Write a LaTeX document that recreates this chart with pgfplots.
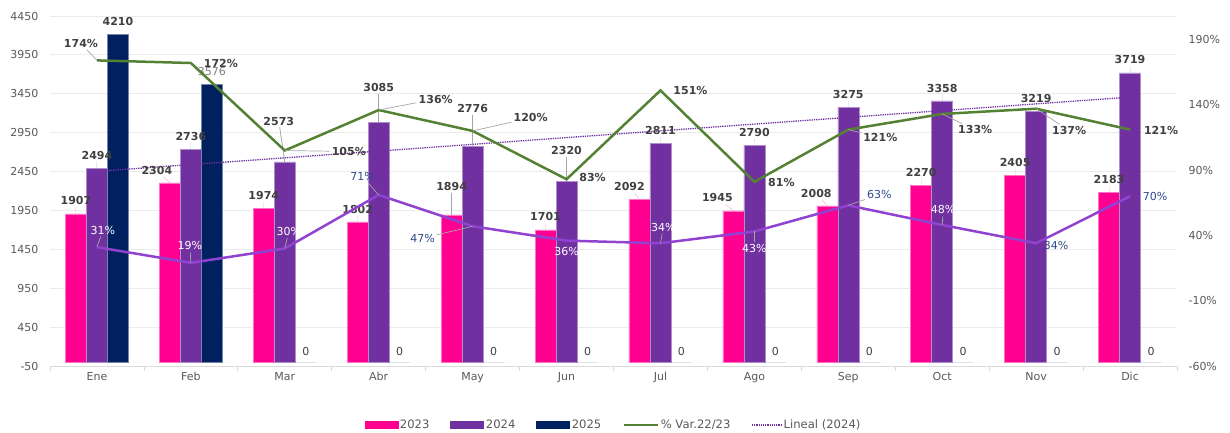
\documentclass[border=0pt]{standalone}
\usepackage{pgfplots}
\usepackage{pgfplotstable}
\pgfplotsset{compat=1.18}
\usepackage{fontspec}
\setmainfont{DejaVu Sans}

\definecolor{cA}{HTML}{FF0090}
\definecolor{cB}{HTML}{7030A0}
\definecolor{cC}{HTML}{002060}
\definecolor{cVar}{HTML}{548235}
\definecolor{cVio}{HTML}{9142D1}
\definecolor{lblue}{HTML}{2E4A8B}
\definecolor{tickc}{HTML}{595959}
\definecolor{labc}{HTML}{404040}
\definecolor{gridc}{HTML}{EBEBEB}
\definecolor{axisc}{HTML}{D9D9D9}
\definecolor{leadc}{HTML}{A6A6A6}

\newcommand\lfont{\fontsize{11bp}{13bp}\selectfont}

% 2023 (dx, dy: label offset in bp; ll: leader line)
\pgfplotstableread{
x y dx dy ll
0 1907 0 0 0
1 2304 -13 0 0
2 1974 0 0 0
3 1802 0 0 0
4 1894 0 15 1
5 1701 0 0 0
6 2092 -10 0 0
7 1945 -16 0 0
8 2008 -11 0 0
9 2270 0 0 0
10 2405 0 0 0
11 2183 0 0 0
}\tA
% 2024
\pgfplotstableread{
x y dx dy ll
0 2494 0 0 0
1 2736 0 0 0
2 2573 -6 28 1
3 3085 0 22 1
4 2776 0 25 1
5 2320 0 18 1
6 2811 0 0 0
7 2790 0 0 0
8 3275 0 0 0
9 3358 0 0 0
10 3219 0 0 0
11 3719 0 0 0
}\tB
% 2025
\pgfplotstableread{
x y
0 4210
}\tCa
\pgfplotstableread{
x y
1 3576
}\tCb
\pgfplotstableread{
x y
2 0
3 0
4 0
5 0
6 0
7 0
8 0
9 0
10 0
11 0
}\tCc
% % Var.22/23
\pgfplotstableread{
x y dx dy ll
0 174 -16 17 1
1 172 30 0 0
2 105 64 -1 1
3 136 57 11 1
4 120 58 13 1
5 83 26 2 0
6 151 30 0 0
7 81 27 -1 0
8 121 32 -8 1
9 133 33 -16 1
10 137 33 -22 1
11 121 31 -1 0
}\tVar
% second percentage line (c=1: white label, c=0: blue label)
\pgfplotstableread{
x y dx dy c ll
0 31 6 17 1 1
1 19 -1 17 1 1
2 30 4 17 1 1
3 71 -16 18 0 1
4 47 -50 -12 0 1
5 36 0 -11 1 0
6 34 3 16 1 1
7 43 0 -17 1 1
8 63 31 11 0 1
9 48 1 15 1 1
10 34 20 -2 0 0
11 70 25 0 0 0
}\tVio

\pgfplotsset{
  base/.style={
    scale only axis, width=1127bp, height=350bp,
    xmin=-0.5, xmax=11.5, clip=false,
    ticklabel style={font=\lfont, text=tickc},
    /pgf/number format/assume math mode=true,
    /pgf/number format/1000 sep={},
    major tick length=0pt,
  },
  barlab/.style={
    visualization depends on={\thisrow{dx} \as \ldx},
    visualization depends on={\thisrow{dy} \as \ldy},
    visualization depends on={\thisrow{ll} \as \lll},
    every node near coord/.append style={font=\lfont\bfseries, text=labc, inner sep=2bp,
      xshift=#1, xshift=\ldx bp, yshift=\ldy bp, yshift=6.5bp,
      append after command={(\tikzlastnode.south) ++({-1*\ldx bp},{-1*\ldy bp-6.5bp})
        edge[draw=leadc, line width=0.7bp, draw opacity=\lll] (\tikzlastnode)}},
  },
  linelab/.style={
    visualization depends on={\thisrow{dx} \as \ldx},
    visualization depends on={\thisrow{dy} \as \ldy},
    visualization depends on={\thisrow{ll} \as \lll},
    every node near coord/.append style={inner sep=1bp,
      anchor=center, xshift=\ldx bp, yshift=\ldy bp,
      append after command={(\tikzlastnode.center) ++({-1*\ldx bp},{-1*\ldy bp})
        edge[draw=leadc, line width=0.7bp, draw opacity=\lll] (\tikzlastnode)}},
  },
}

\begin{document}
\begin{tikzpicture}
\begin{axis}[base,
  ymin=-50, ymax=4450,
  xtick={0,...,11},
  xticklabels={Ene,Feb,Mar,Abr,May,Jun,Jul,Ago,Sep,Oct,Nov,Dic},
  minor xtick={-0.5,0.5,...,11.5},
  ytick={-50,450,...,4450},
  axis x line*=bottom, axis y line*=left,
  y axis line style={draw=none},
  x axis line style={draw=axisc, line width=0.8bp},
  minor tick length=5bp, tick align=outside,
  minor x tick style={draw=axisc, line width=0.8bp},
  ymajorgrids, grid style={draw=gridc, line width=0.8bp},
  xticklabel style={yshift=-3bp},
  yticklabel style={xshift=-8bp},
]
\addplot[ybar, bar width=21bp, bar shift=-21bp, fill=cA, draw=cA!55!white, line width=0.5bp,
  point meta=y, nodes near coords, barlab=-21bp]
  table[x=x,y=y]{\tA};
\addplot[ybar, bar width=21bp, bar shift=0bp, fill=cB, draw=cB!55!white, line width=0.5bp,
  point meta=y, nodes near coords, barlab=0bp]
  table[x=x,y=y]{\tB};
\addplot[ybar, bar width=21bp, bar shift=21bp, fill=cC, draw=cC!55!white, line width=0.5bp,
  point meta=y, nodes near coords,
  every node near coord/.append style={font=\lfont\bfseries, text=labc, inner sep=2bp,
    xshift=21bp, yshift=6.5bp}]
  table[x=x,y=y]{\tCa};
\addplot[ybar, bar width=21bp, bar shift=21bp, fill=cC, draw=cC!55!white, line width=0.5bp,
  point meta=y, nodes near coords,
  every node near coord/.append style={font=\lfont, text=gray, inner sep=2bp,
    xshift=21bp, yshift=6.5bp}]
  table[x=x,y=y]{\tCb};
\addplot[ybar, bar width=21bp, bar shift=21bp, fill=cC, draw=none,
  point meta=y, nodes near coords,
  every node near coord/.append style={font=\lfont, text=labc, inner sep=2bp,
    xshift=21bp, yshift=4bp}]
  table[x=x,y=y]{\tCc};
% linear trend of 2024
\addplot[cB, densely dotted, line width=1.3bp] coordinates {(0,2453) (11,3407)};
\end{axis}

\begin{axis}[base,
  ymin=-60, ymax=208,
  axis x line=none, axis y line*=right,
  y axis line style={draw=none},
  ytick={-60,-10,...,190},
  yticklabel={\pgfmathprintnumber{\tick}\%},
  yticklabel style={xshift=8bp},
  legend style={at={(0.5,-0.1686)}, anchor=center, draw=none, fill=none,
    font=\fontsize{11.6bp}{13bp}\selectfont, text=tickc, legend columns=-1,
    /tikz/every even column/.append style={column sep=19bp}},
  legend cell align=left,
]
\addlegendimage{legend image code/.code={\fill[cA] (0bp,-3.5bp) rectangle (33bp,3.5bp);}}
\addlegendimage{legend image code/.code={\fill[cB] (0bp,-3.5bp) rectangle (33bp,3.5bp);}}
\addlegendimage{legend image code/.code={\fill[cC] (0bp,-3.5bp) rectangle (33bp,3.5bp);}}
\addplot[cVar, line width=2.5bp, mark=none,
  legend image code/.code={\draw[cVar, line width=2.5bp] (0bp,0bp) -- (34bp,0bp);},
  point meta=y,
  nodes near coords={\pgfmathprintnumber[fixed,precision=0]{\pgfplotspointmeta}\%},
  linelab,
  every node near coord/.append style={font=\lfont\bfseries, text=labc}]
  table[x=x,y=y]{\tVar};
\addplot[cVio, line width=2.5bp, mark=none, forget plot,
  point meta=y,
  nodes near coords={\ifdim\lc pt>0.5pt\color{white}\else\color{lblue}\fi\pgfmathprintnumber[fixed,precision=0]{\pgfplotspointmeta}\%},
  visualization depends on={\thisrow{c} \as \lc},
  linelab,
  every node near coord/.append style={font=\lfont}]
  table[x=x,y=y]{\tVio};
\addlegendimage{legend image code/.code={\draw[cB, densely dotted, line width=1.2bp] (0bp,0bp) -- (29bp,0bp);}}
\legend{2023,2024,2025,\% Var.22/23,Lineal (2024)}
\end{axis}
\pgfresetboundingbox
\path (-50bp,-67bp) rectangle (1180bp,366bp);
\end{tikzpicture}
\end{document}
